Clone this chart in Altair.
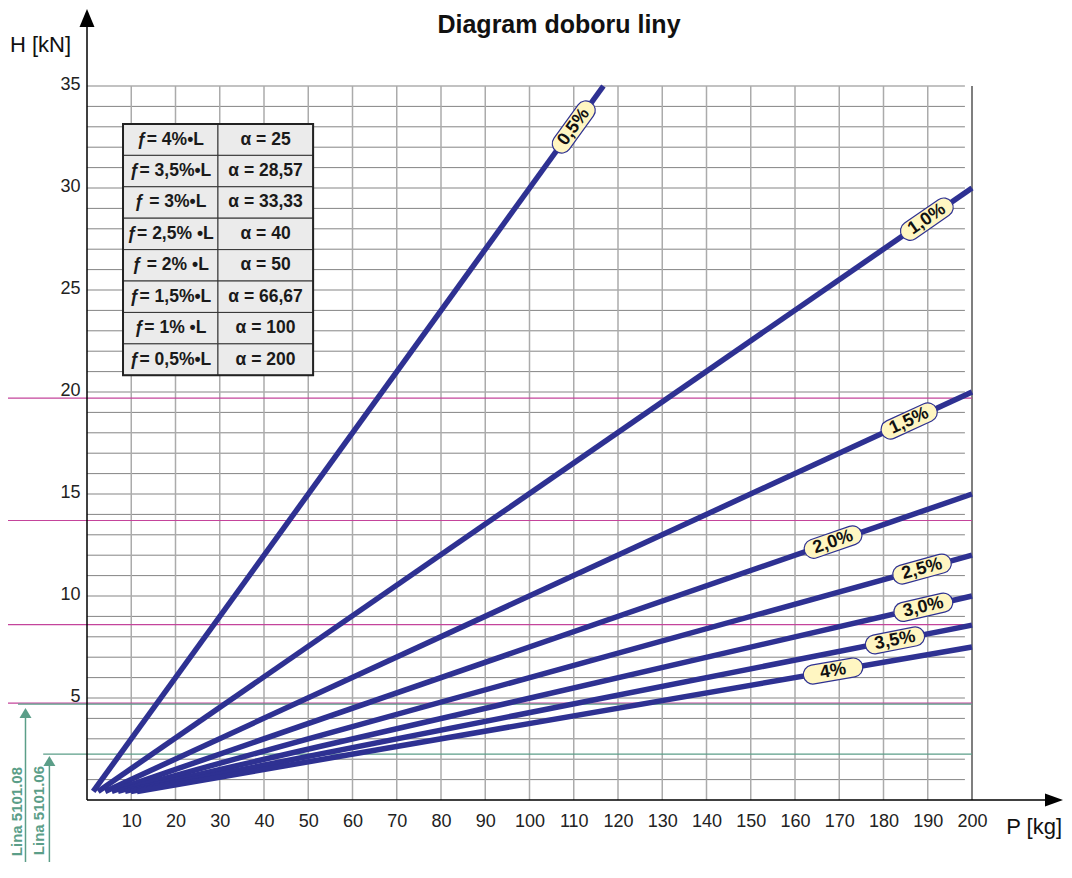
import math
import altair as alt
import pandas as pd

# ---------------- data ----------------
series = ["0,5%", "1,0%", "1,5%", "2,0%", "2,5%", "3,0%", "3,5%", "4%"]
start_P = [1.4, 2.5, 4.1, 5.6, 7.0, 8.6, 9.9, 11.3]
start_H = [0.42, 0.42, 0.42, 0.42, 0.42, 0.42, 0.42, 0.42]
end_P = [116.7, 200, 200, 200, 200, 200, 200, 200]
end_H = [35, 30, 20, 15, 12, 10, 8.57, 7.5]
label_P = [110, 189.8, 185.8, 168.6, 188.7, 189, 182.6, 168.6]

table_f = ["ƒ= 4%•L", "ƒ= 3,5%•L", "ƒ = 3%•L", "ƒ= 2,5% •L",
           "ƒ = 2% •L", "ƒ= 1,5%•L", "ƒ= 1% •L", "ƒ= 0,5%•L"]
table_alpha = ["α = 25", "α = 28,57", "α = 33,33", "α = 40",
               "α = 50", "α = 66,67", "α = 100", "α = 200"]

x_ticks = [10, 20, 30, 40, 50, 60, 70, 80, 90, 100, 110, 120, 130, 140, 150,
           160, 170, 180, 190, 200]
y_ticks = [5, 10, 15, 20, 25, 30, 35]
grid_P = [10, 20, 30, 40, 50, 60, 70, 80, 90, 100, 110, 120, 130, 140, 150,
          160, 170, 180, 190]
grid_H = list(range(1, 36))

magenta_H = [19.7, 13.7, 8.6, 4.75]
green_H = [4.7, 2.25]
green_start_P = [-15.6, -9.9]
green_arrow_P = [-13.9, -8.5]
green_arrow_H = [4.26, 1.91]
green_labels = ["Lina 5101.08", "Lina 5101.06"]
green_label_P = [-15.8, -10.85]
green_label_H = [1.62, 1.67]

# ---------------- layout / style ----------------
W, HT = 885, 714
P_MAX, H_MAX = 200, 35
FONT = "Liberation Sans"
BLUE = "#2E3192"
MAGENTA = "#C4449B"
GREEN = "#5B9E88"
TAB_P = [8.14, 29.6, 51.1]
TAB_TOP = 33.14
TAB_ROW = 1.54
GRID_END = 198.4
BOTTOM_H = -3.4
MAG_START = -18

xs = alt.Scale(domain=[0, P_MAX], nice=False, zero=False)
ys = alt.Scale(domain=[0, H_MAX], nice=False, zero=False)
x_axis = alt.Axis(values=x_ticks, title=None, grid=False, domain=False, ticks=False,
                  labelFont=FONT, labelFontSize=18, labelColor="#222",
                  labelPadding=12, labelOverlap=False, labelFlush=False,
                  labelBound=False)
y_axis = alt.Axis(values=y_ticks, title=None, grid=False, domain=False, ticks=False,
                  labelFont=FONT, labelFontSize=18, labelColor="#222",
                  labelPadding=7, labelOffset=-2, labelOverlap=False,
                  labelFlush=False, labelBound=False)


def X(f):
    return alt.X(f"{f}:Q", scale=xs, axis=x_axis)


def Y(f):
    return alt.Y(f"{f}:Q", scale=ys, axis=y_axis)


one = pd.DataFrame({"k": [0]})

# grid
hgrid = alt.Chart(pd.DataFrame({"H": grid_H, "P": 0, "P2": GRID_END})).mark_rule(
    color="#858585", strokeWidth=1).encode(x=X("P"), x2="P2", y=Y("H"))
vgrid = alt.Chart(pd.DataFrame({"P": grid_P, "H": 0, "H2": H_MAX})).mark_rule(
    color="#ababab", strokeWidth=1.5).encode(x=X("P"), y=Y("H"), y2="H2")
border = alt.Chart(pd.DataFrame({"P": [P_MAX], "H": [0], "H2": [H_MAX]})).mark_rule(
    color="#555555", strokeWidth=1.5).encode(x=X("P"), y=Y("H"), y2="H2")

# reference lines
mag = alt.Chart(pd.DataFrame({"H": magenta_H, "P": MAG_START, "P2": P_MAX})).mark_rule(
    color=MAGENTA, strokeWidth=1.2).encode(x=X("P"), x2="P2", y=Y("H"))
grn = alt.Chart(pd.DataFrame({"H": green_H, "P": green_start_P, "P2": P_MAX})).mark_rule(
    color=GREEN, strokeWidth=1.2).encode(x=X("P"), x2="P2", y=Y("H"))
grn_shaft = alt.Chart(pd.DataFrame({"P": green_arrow_P, "H": BOTTOM_H,
                                    "H2": green_arrow_H})).mark_rule(
    color=GREEN, strokeWidth=1.5).encode(x=X("P"), y=Y("H"), y2="H2")
grn_head = alt.Chart(pd.DataFrame({"P": green_arrow_P, "H": green_arrow_H})).mark_point(
    shape="M0,-1 L1.2,1 L-1.2,1 Z", size=100, filled=True, fill=GREEN,
    opacity=1, strokeWidth=0).encode(x=X("P"), y=Y("H"))
grn_text = alt.Chart(pd.DataFrame({"P": green_label_P, "H": green_label_H,
                                   "t": green_labels})).mark_text(
    angle=270, align="right", baseline="middle", font=FONT, fontSize=15,
    fontWeight="bold", color=GREEN).encode(x=X("P"), y=Y("H"), text="t:N")

# series lines
rows = []
for s, p0, h0, p1, h1 in zip(series, start_P, start_H, end_P, end_H):
    rows.append({"s": s, "P": p0, "H": h0, "o": 0})
    rows.append({"s": s, "P": p1, "H": h1, "o": 1})
lines = alt.Chart(pd.DataFrame(rows)).mark_line(
    color=BLUE, strokeWidth=5.5, strokeCap="butt").encode(
    x=X("P"), y=Y("H"), detail="s:N", order="o:Q")

# line labels
sx, sy = W / P_MAX, HT / H_MAX
lab = []
for s, p0, h0, p1, h1, lp in zip(series, start_P, start_H, end_P, end_H, label_P):
    k = (h1 - h0) / (p1 - p0)
    ang = 360 - math.degrees(math.atan(k * sy / sx))
    lab.append({"s": s, "P": lp, "H": h0 + (lp - p0) * k, "ang": ang})
lab_df = pd.DataFrame(lab)
pill = alt.Chart(lab_df).mark_point(
    shape="M -2.16 -1 L 2.16 -1 A 1 1 0 0 1 2.16 1 L -2.16 1 A 1 1 0 0 1 -2.16 -1 Z",
    size=361, filled=True, fill="#FFF6C2", stroke=BLUE, strokeWidth=1.2,
    opacity=1).encode(x=X("P"), y=Y("H"), angle=alt.Angle("ang:Q", scale=None))
pill_text = alt.Chart(lab_df).mark_text(
    font=FONT, fontSize=18, fontWeight="bold", color="#111", align="center",
    baseline="middle").encode(x=X("P"), y=Y("H"), text="s:N",
                              angle=alt.Angle("ang:Q", scale=None))

# table
cells = []
for i, (a, b) in enumerate(zip(table_f, table_alpha)):
    top = TAB_TOP - i * TAB_ROW
    for c, t in enumerate([a, b]):
        cells.append({"P": TAB_P[c], "P2": TAB_P[c + 1], "H": top - TAB_ROW, "H2": top,
                      "Pc": (TAB_P[c] + TAB_P[c + 1]) / 2, "Hc": top - TAB_ROW / 2,
                      "t": t})
cell_df = pd.DataFrame(cells)
tab_cells = alt.Chart(cell_df).mark_rect(
    fill="#ebebeb", stroke="#333333", strokeWidth=1).encode(
    x=X("P"), x2="P2", y=Y("H"), y2="H2")
tab_border = alt.Chart(pd.DataFrame({"P": [TAB_P[0]], "P2": [TAB_P[-1]],
                                     "H": [TAB_TOP - 8 * TAB_ROW], "H2": [TAB_TOP]})).mark_rect(
    filled=False, stroke="#222222", strokeWidth=2).encode(
    x=X("P"), x2="P2", y=Y("H"), y2="H2")
tab_text = alt.Chart(cell_df).mark_text(
    font=FONT, fontSize=17.5, fontWeight="bold", color="#1a1a1a", align="center",
    baseline="middle").encode(x=X("Pc"), y=Y("Hc"), text="t:N")

# axes lines, arrows, titles
x_line = alt.Chart(one).mark_rule(color="black", strokeWidth=1.5).encode(
    x=alt.value(0), x2=alt.value(960), y=alt.value(HT))
y_line = alt.Chart(one).mark_rule(color="black", strokeWidth=1.5).encode(
    x=alt.value(0), y=alt.value(-64), y2=alt.value(HT))
x_head = alt.Chart(one).mark_point(
    shape="M1,0 L-1,0.72 L-1,-0.72 Z", size=324, filled=True, fill="black",
    opacity=1, strokeWidth=0).encode(x=alt.value(967), y=alt.value(HT))
y_head = alt.Chart(one).mark_point(
    shape="M0,-1 L0.83,1 L-0.83,1 Z", size=324, filled=True, fill="black",
    opacity=1, strokeWidth=0).encode(x=alt.value(0), y=alt.value(-68))
y_title = alt.Chart(one).mark_text(
    text="H [kN]", font=FONT, fontSize=22, color="#111", align="left",
    baseline="middle").encode(x=alt.value(-77), y=alt.value(-41))
x_title = alt.Chart(one).mark_text(
    text="P [kg]", font=FONT, fontSize=22, color="#111", align="right",
    baseline="middle").encode(x=alt.value(975), y=alt.value(741))
title = alt.Chart(one).mark_text(
    text="Diagram doboru liny", font=FONT, fontSize=25, fontWeight="bold",
    color="#111", align="center", baseline="middle").encode(
    x=alt.value(472), y=alt.value(-61))

chart = alt.layer(
    hgrid, vgrid, border, mag, grn, grn_shaft, grn_head, grn_text,
    lines, pill, pill_text, tab_cells, tab_border, tab_text,
    x_line, y_line, x_head, y_head, y_title, x_title, title,
).properties(
    width=W, height=HT,
    padding={"left": 79, "top": 78, "right": 92, "bottom": 62},
    autosize=alt.AutoSizeParams(type="none"),
    background="white",
).configure_view(stroke=None)

chart.save("out.html", embed_options={"renderer": "svg", "actions": False})
